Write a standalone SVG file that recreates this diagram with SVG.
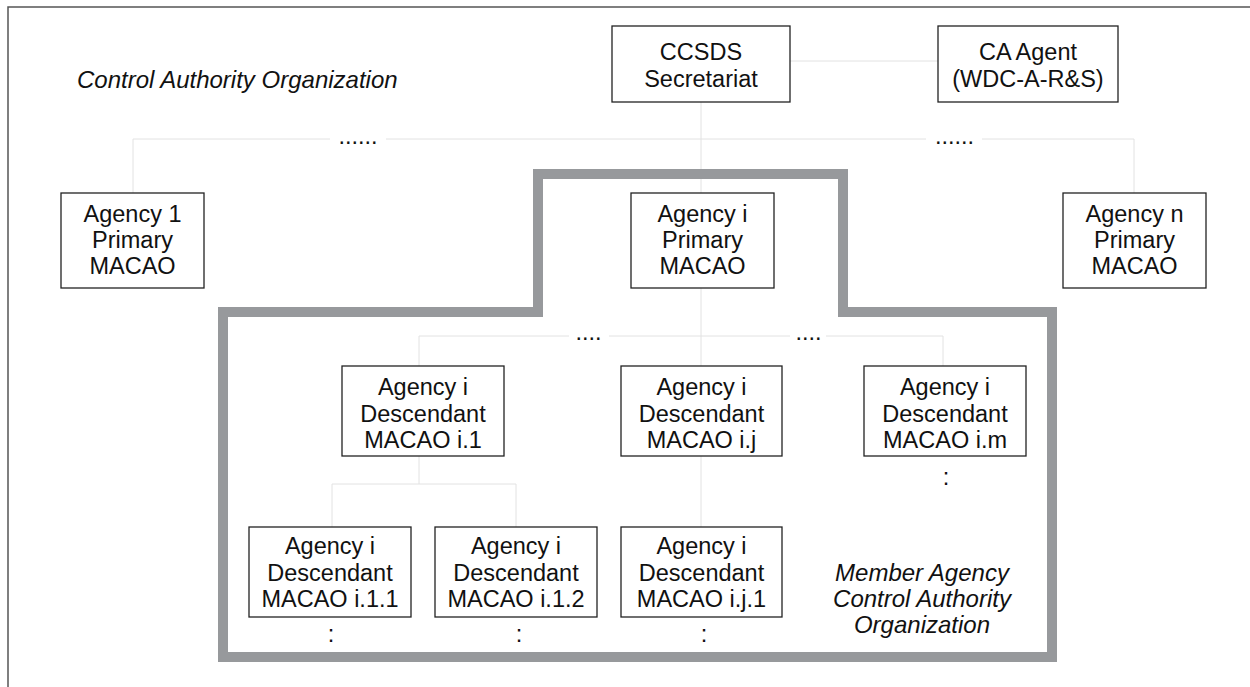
<svg xmlns="http://www.w3.org/2000/svg" width="1250" height="687" viewBox="0 0 1250 687">
<style>
  .box{fill:#fff;stroke:#222;stroke-width:1.3}
  .t{font-family:"Liberation Sans",Arial,sans-serif;font-size:23.5px;fill:#111;text-anchor:middle}
  .it{font-family:"Liberation Sans",Arial,sans-serif;font-size:24px;fill:#111;font-style:italic}
  .conn{stroke:#e2e2e2;stroke-width:1;fill:none}
  .frame{fill:none;stroke:#555;stroke-width:1.5}
  .macao{fill:none;stroke:#97999c;stroke-width:10}
</style>
<rect x="0" y="0" width="1250" height="687" fill="#fff"/>
<rect class="frame" x="8" y="7" width="1260" height="700"/>
<text class="it" x="77" y="88">Control Authority Organization</text>

<g id="connectors">
  <path class="conn" d="M790,61 H938"/>
  <path class="conn" d="M701,102 V193"/>
  <path class="conn" d="M133,139 H330 M386,139 H926 M982,139 H1134"/>
  <path class="conn" d="M133,139 V193 M1134,139 V193"/>
  <path class="conn" d="M701,288 V366 M701,456 V527"/>
  <path class="conn" d="M419,336 H569 M609,336 H790 M826,336 H943"/>
  <path class="conn" d="M419,336 V366 M943,336 V366"/>
  <path class="conn" d="M419,456 V484 M332,484 H516 M332,484 V527 M516,484 V527"/>
  <text class="t" x="358" y="144">......</text>
  <text class="t" x="954.5" y="144">......</text>
  <text class="t" x="588.5" y="340">....</text>
  <text class="t" x="808.5" y="340">....</text>
</g>

<path id="macao-boundary" class="macao" d="M223,657 V312 H538 V174 H843 V312 H1052 V657 Z"/>

<g id="ccsds">
  <rect class="box" x="612" y="26" width="178" height="76"/>
  <text class="t" x="701" y="60">CCSDS</text>
  <text class="t" x="701" y="87">Secretariat</text>
</g>
<g id="ca-agent">
  <rect class="box" x="938" y="26" width="180" height="76"/>
  <text class="t" x="1028" y="60">CA Agent</text>
  <text class="t" x="1028" y="87">(WDC-A-R&amp;S)</text>
</g>
<g id="agency1">
  <rect class="box" x="61" y="193" width="143" height="95"/>
  <text class="t" x="132.5" y="222">Agency 1</text>
  <text class="t" x="132.5" y="248">Primary</text>
  <text class="t" x="132.5" y="274">MACAO</text>
</g>
<g id="agencyi">
  <rect class="box" x="631" y="193" width="143" height="95"/>
  <text class="t" x="702.5" y="222">Agency i</text>
  <text class="t" x="702.5" y="248">Primary</text>
  <text class="t" x="702.5" y="274">MACAO</text>
</g>
<g id="agencyn">
  <rect class="box" x="1063" y="193" width="143" height="95"/>
  <text class="t" x="1134.5" y="222">Agency n</text>
  <text class="t" x="1134.5" y="248">Primary</text>
  <text class="t" x="1134.5" y="274">MACAO</text>
</g>
<g id="desc-i1">
  <rect class="box" x="342" y="366" width="162" height="90"/>
  <text class="t" x="423" y="395">Agency i</text>
  <text class="t" x="423" y="422">Descendant</text>
  <text class="t" x="423" y="448">MACAO i.1</text>
</g>
<g id="desc-ij">
  <rect class="box" x="621" y="366" width="161" height="90"/>
  <text class="t" x="701.5" y="395">Agency i</text>
  <text class="t" x="701.5" y="422">Descendant</text>
  <text class="t" x="701.5" y="448">MACAO i.j</text>
</g>
<g id="desc-im">
  <rect class="box" x="864" y="366" width="162" height="90"/>
  <text class="t" x="945" y="395">Agency i</text>
  <text class="t" x="945" y="422">Descendant</text>
  <text class="t" x="945" y="448">MACAO i.m</text>
  <text class="t" x="946" y="485">:</text>
</g>
<g id="desc-i11">
  <rect class="box" x="249" y="527" width="162" height="90"/>
  <text class="t" x="330" y="554">Agency i</text>
  <text class="t" x="330" y="581">Descendant</text>
  <text class="t" x="330" y="607">MACAO i.1.1</text>
  <text class="t" x="331" y="642">:</text>
</g>
<g id="desc-i12">
  <rect class="box" x="435" y="527" width="162" height="90"/>
  <text class="t" x="516" y="554">Agency i</text>
  <text class="t" x="516" y="581">Descendant</text>
  <text class="t" x="516" y="607">MACAO i.1.2</text>
  <text class="t" x="519" y="642">:</text>
</g>
<g id="desc-ij1">
  <rect class="box" x="621" y="527" width="161" height="90"/>
  <text class="t" x="701.5" y="554">Agency i</text>
  <text class="t" x="701.5" y="581">Descendant</text>
  <text class="t" x="701.5" y="607">MACAO i.j.1</text>
  <text class="t" x="704" y="642">:</text>
</g>
<g id="member-label">
  <text class="it" text-anchor="middle" x="922" y="581">Member Agency</text>
  <text class="it" text-anchor="middle" x="922" y="607">Control Authority</text>
  <text class="it" text-anchor="middle" x="922" y="633">Organization</text>
</g>
</svg>
